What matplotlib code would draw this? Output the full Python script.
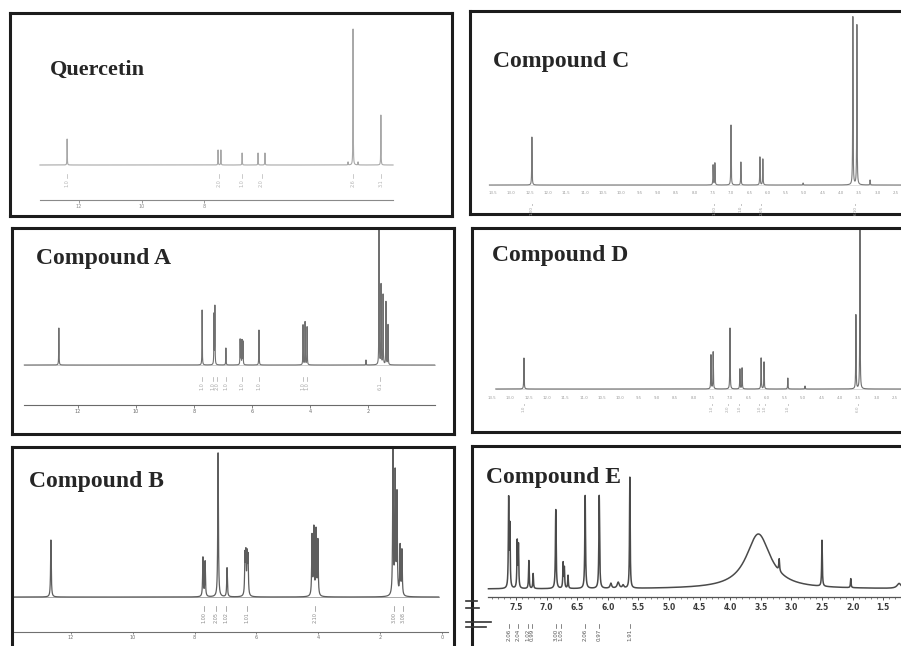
import matplotlib
matplotlib.use("Agg")
import matplotlib.pyplot as plt
import numpy as np
from matplotlib.lines import Line2D

W, H = 901, 646

# ---- peak lists (ppm, relative height) ----
Q_PEAKS = [12.38, 7.55, 7.46, 6.78, 6.27, 6.05, 3.39, 3.23, 3.07, 2.34]
Q_HEIGHTS = [26, 15, 15, 12, 12, 12, 3, 136, 3, 50]
Q_TICKS = [12, 10, 8]
Q_INTEG_PPM = [12.38, 7.52, 6.78, 6.16, 3.23, 2.34]
Q_INTEG_TXT = ["1.0", "2.0", "1.0", "2.0", "2.6", "3.1"]

A_PEAKS = [12.66, 7.72, 7.31, 7.28, 6.90, 6.41, 6.38, 6.34, 6.31, 5.76,
           4.24, 4.17, 4.10, 2.07, 1.62, 1.55, 1.48, 1.38, 1.31]
A_HEIGHTS = [37, 55, 50, 58, 17, 25, 24, 24, 23, 35,
             40, 43, 38, 5, 140, 80, 70, 63, 40]
A_TICKS = [12, 10, 8, 6, 4, 2]
A_INTEG_PPM = [7.72, 7.35, 7.22, 6.90, 6.36, 5.76, 4.24, 4.10, 1.58]
A_INTEG_TXT = ["1.0", "1.0", "2.0", "1.0", "1.0", "1.0", "1.0", "1.0", "6.1"]

B_PEAKS = [12.65, 7.73, 7.66, 7.24, 6.95, 6.37, 6.34, 6.30, 6.27,
           4.20, 4.14, 4.07, 4.01, 1.58, 1.51, 1.45, 1.35, 1.29]
B_HEIGHTS = [57, 39, 35, 144, 29, 39, 39, 38, 37,
             60, 67, 65, 55, 145, 120, 100, 49, 45]
B_TICKS = [12, 10, 8, 6, 4, 2, 0]
B_INTEG_PPM = [7.70, 7.30, 6.98, 6.32, 4.10, 1.55, 1.25]
B_INTEG_TXT = ["1.00", "2.05", "1.02", "1.01", "2.10", "3.00", "3.08"]

C_PEAKS = [12.44, 7.49, 7.44, 7.00, 6.73, 6.21, 6.13, 5.03, 3.67, 3.56, 3.20]
C_HEIGHTS = [48, 20, 22, 60, 23, 28, 26, 2, 168, 160, 5]
C_TICKS = [13.5, 13.0, 12.5, 12.0, 11.5, 11.0, 10.5, 10.0, 9.5, 9.0, 8.5, 8.0,
           7.5, 7.0, 6.5, 6.0, 5.5, 5.0, 4.5, 4.0, 3.5, 3.0, 2.5]
C_INTEG_PPM = [12.44, 7.46, 6.73, 6.17, 3.60]
C_INTEG_TXT = ["1.00", "1.00", "1.0", "2.05", "6.10"]

D_PEAKS = [12.63, 7.52, 7.46, 7.00, 6.73, 6.67, 6.15, 6.07, 5.42, 4.95, 3.56, 3.45]
D_HEIGHTS = [31, 34, 37, 61, 20, 21, 31, 27, 11, 3, 74, 165]
D_TICKS = [13.5, 13.0, 12.5, 12.0, 11.5, 11.0, 10.5, 10.0, 9.5, 9.0, 8.5, 8.0,
           7.5, 7.0, 6.5, 6.0, 5.5, 5.0, 4.5, 4.0, 3.5, 3.0, 2.5]
D_INTEG_PPM = [12.63, 7.50, 7.05, 6.75, 6.20, 6.05, 5.42, 3.50]
D_INTEG_TXT = ["1.0", "1.0", "2.0", "1.0", "1.0", "1.0", "1.0", "6.0"]

E_PEAKS = [7.62, 7.60, 7.48, 7.46, 7.29, 7.22, 6.85, 6.73, 6.71, 6.65, 6.37,
           6.14, 5.95, 5.83, 5.75, 5.64, 3.54, 3.20, 2.50, 2.03, 1.24]
E_HEIGHTS = [88, 60, 46, 42, 28, 15, 79, 25, 20, 13, 93,
             93, 5, 6, 3, 111, 55, 12, 46, 9, 5]
E_WIDTHS = [0.012, 0.012, 0.012, 0.012, 0.012, 0.012, 0.014, 0.012, 0.012, 0.012, 0.014,
            0.014, 0.03, 0.04, 0.03, 0.012, 0.48, 0.015, 0.012, 0.012, 0.08]
E_TICKS = [7.5, 7.0, 6.5, 6.0, 5.5, 5.0, 4.5, 4.0, 3.5, 3.0, 2.5, 2.0, 1.5]
E_INTEG_PPM = [7.61, 7.47, 7.30, 7.24, 6.85, 6.76, 6.37, 6.14, 5.64]
E_INTEG_TXT = ["2.06", "2.04", "1.02", "0.99", "3.00", "1.05", "2.06", "0.97", "1.91"]

FRAME = "#1c1c1c"
TITLE = dict(family=["Liberation Serif", "DejaVu Serif"], weight="bold", size=17, color="#262626")

fig = plt.figure(figsize=(W / 100, H / 100), dpi=100)
fig.patch.set_facecolor("white")


def panel(left, top, right, bottom, base, x_at, ppm_at, px_per_ppm):
    """Frame axes whose x axis is in ppm and y axis in pixels above the baseline."""
    ax = fig.add_axes([left / W, 1 - bottom / H, (right - left) / W, (bottom - top) / H])
    ax.set_xlim(ppm_at + (x_at - left) / px_per_ppm, ppm_at - (right - x_at) / px_per_ppm)
    ax.set_ylim(-(bottom - base), base - top)
    ax.set_xticks([])
    ax.set_yticks([])
    for s in ax.spines.values():
        s.set_linewidth(2.2)
        s.set_color(FRAME)
    return ax


def spectrum(ax, lo, hi, peaks, heights, widths, color, lw, base_color=None):
    grid = np.linspace(lo, hi, 40000)
    y = np.zeros_like(grid)
    for c, h, w in zip(peaks, heights, np.broadcast_to(widths, len(peaks))):
        y += h / (1 + ((grid - c) / (w / 2)) ** 2)
    if base_color is not None:
        ax.plot([lo, hi], [0, 0], color=base_color, lw=0.6, zorder=1)
    ax.plot(grid, y, color=color, lw=lw, zorder=2)


def integrals(ax, ppms, texts, y, color, size, bracket=4):
    for p, t in zip(ppms, texts):
        ax.plot([p, p], [y, y - bracket], color=color, lw=0.5)
        ax.text(p, y - bracket - 1, t, rotation=90, ha="center", va="top",
                fontsize=size, color=color)


def scale(ax, lo, hi, y, ticks, color, size, tick_len=3):
    ax.plot([lo, hi], [y, y], color=color, lw=0.8)
    ax.vlines(ticks, y, y - tick_len, color=color, lw=0.6)
    for t in ticks:
        ax.text(t, y - tick_len - 1, f"{t:g}", ha="center", va="top",
                fontsize=size, color=color)


# ---- Quercetin ----
ax = panel(10, 13, 452, 216, 165, 79, 12, 31.25)
spectrum(ax, 13.25, 1.95, Q_PEAKS, Q_HEIGHTS, 0.01, "#a8a8a8", 0.8)
integrals(ax, Q_INTEG_PPM, Q_INTEG_TXT, -9, "#b5b5b5", 3.5)
scale(ax, 13.25, 1.95, -35, Q_TICKS, "#8a8a8a", 3.5)
fig.text(50 / W, 1 - 75 / H, "Quercetin", va="baseline", **{**TITLE, "size": 16})

# ---- Compound A ----
ax = panel(12, 228, 454, 434, 365, 368, 2, 29)
spectrum(ax, 13.85, -0.3, A_PEAKS, A_HEIGHTS, 0.012, "#707070", 0.8, base_color="#c8c8c8")
integrals(ax, A_INTEG_PPM, A_INTEG_TXT, -12, "#a8a8a8", 3.5)
scale(ax, 13.85, -0.3, -40, A_TICKS, "#6a6a6a", 3.5)
fig.text(36 / W, 1 - 264 / H, "Compound A", va="baseline", **TITLE)

# ---- Compound B ----
ax = panel(12, 447, 454, 670, 597, 380, 2, 30.9)
spectrum(ax, 13.9, 0.1, B_PEAKS, B_HEIGHTS, 0.025, "#5e5e5e", 0.9, base_color="#9a9a9a")
integrals(ax, B_INTEG_PPM, B_INTEG_TXT, -9, "#8a8a8a", 3.5, bracket=5)
scale(ax, 13.9, -0.2, -35, B_TICKS, "#707070", 3.5, tick_len=2)
fig.text(29 / W, 1 - 487 / H, "Compound B", va="baseline", **TITLE)

# ---- Compound C ----
ax = panel(470, 11, 925, 214, 185, 731, 7, 36.6)
spectrum(ax, 13.6, 1.0, C_PEAKS, C_HEIGHTS, 0.012, "#7a7a7a", 0.8, base_color="#dcdcdc")
for t in C_TICKS:
    ax.text(t, -6, f"{t:.1f}", ha="center", va="top", fontsize=2.8, color="#9a9a9a")
integrals(ax, C_INTEG_PPM, C_INTEG_TXT, -19, "#a0a0a0", 3.0, bracket=1)
fig.text(493 / W, 1 - 67 / H, "Compound C", va="baseline", **TITLE)

# ---- Compound D ----
ax = panel(472, 228, 925, 432, 389, 730, 7, 36.6)
spectrum(ax, 13.4, 1.0, D_PEAKS, D_HEIGHTS, 0.012, "#6e6e6e", 0.8, base_color="#d4d4d4")
for t in D_TICKS:
    ax.text(t, -7, f"{t:.1f}", ha="center", va="top", fontsize=2.8, color="#9a9a9a")
integrals(ax, D_INTEG_PPM, D_INTEG_TXT, -15, "#a8a8a8", 3.0, bracket=1)
fig.text(492 / W, 1 - 261 / H, "Compound D", va="baseline", **TITLE)

# ---- Compound E ----
ax = panel(472, 446, 925, 670, 589, 516, 7.5, 61.2)
spectrum(ax, 7.95, 0.9, E_PEAKS, E_HEIGHTS, E_WIDTHS, "#4a4a4a", 1.1)
ax.plot([7.95, 0.9], [-8, -8], color="#555555", lw=0.9)
ax.vlines(np.arange(1.0, 7.95, 0.1), -8, -10, color="#555555", lw=0.5)
for t in E_TICKS:
    ax.vlines(t, -8, -11, color="#555555", lw=0.7)
    ax.text(t, -14, f"{t:.1f}", ha="center", va="top", fontsize=5.5,
            color="#3a3a3a", weight="bold")
integrals(ax, E_INTEG_PPM, E_INTEG_TXT, -35, "#555555", 4.0, bracket=4)
fig.text(486 / W, 1 - 483 / H, "Compound E", va="baseline", **TITLE)

# stray marks at the left edge of the scanned E panel
for y0, x1 in [(601, 477), (608, 479), (622, 491), (627, 486)]:
    fig.add_artist(Line2D([466 / W, x1 / W], [1 - y0 / H, 1 - y0 / H], color="#333333", lw=1.2))

fig.savefig("out.png", dpi=100, facecolor="white")
